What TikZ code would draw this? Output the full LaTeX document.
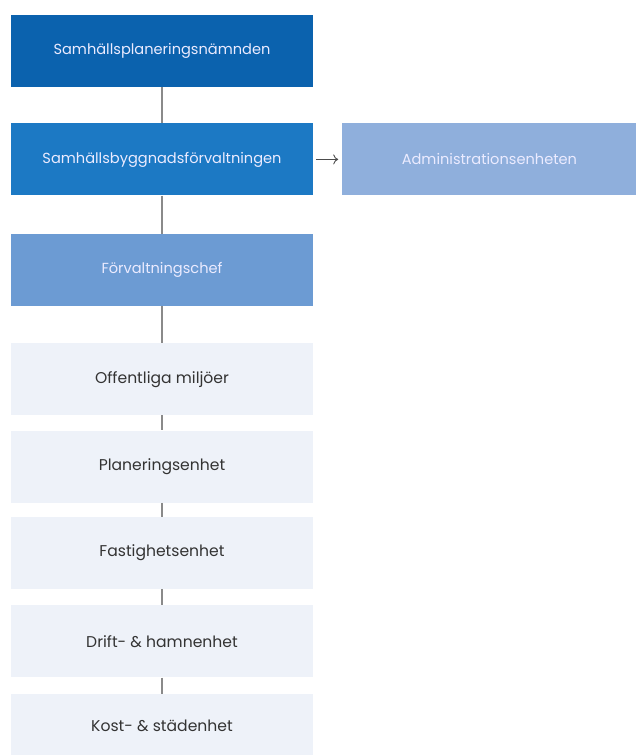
\documentclass[tikz,border=0pt]{standalone}
\usepackage{fontspec}
\setmainfont{Poppins}
\usetikzlibrary{positioning,arrows.meta}
\definecolor{navy}{HTML}{0B62AE}
\definecolor{midblue}{HTML}{1C79C4}
\definecolor{softblue}{HTML}{6C9BD3}
\definecolor{paleblue}{HTML}{8FAFDC}
\definecolor{unitbg}{HTML}{EEF2F9}
\definecolor{linegray}{HTML}{8A8A8A}
\begin{document}
\begin{tikzpicture}[x=1pt,y=1pt]
\tikzstyle{box}=[minimum width=302pt,minimum height=72pt,inner sep=0pt]
\tikzstyle{topbox}=[box,text=white!92!blue,font=\fontsize{14.6}{16}\selectfont]
\tikzstyle{unit}=[box,fill=unitbg,text=black!80,font=\fontsize{15.6}{17}\selectfont]
\tikzstyle{link}=[draw=linegray,line width=1.4pt]
\useasboundingbox (0,0) rectangle (638,-755);
% chain of command
\node [topbox,fill=navy] (nmd) at (162,-51) {Samhällsplaneringsnämnden};
\node [topbox,fill=midblue,below=36pt of nmd] (forv) {Samhällsbyggnadsförvaltningen};
\node [topbox,fill=softblue,below=38pt of forv] (chef) {Förvaltningschef};
\node [topbox,fill=paleblue,minimum width=294pt,right=29pt of forv] (adm) {Administrationsenheten};
% units
\node [unit,below=37pt of chef] (milj) {Offentliga miljöer};
\node [unit,below=15pt of milj] (plan) {Planeringsenhet};
\node [unit,below=14pt of plan] (fast) {Fastighetsenhet};
\node [unit,below=16pt of fast] (drift) {Drift- \& hamnenhet};
\node [unit,below=16pt of drift,minimum height=64pt] (kost) {Kost- \& städenhet};
\draw [link] (nmd) -- (forv);
\draw [link] (forv) -- (chef);
\draw [link] (chef) -- (milj);
\draw [link] (milj) -- (plan);
\draw [link] (plan) -- (fast);
\draw [link] (fast) -- (drift);
\draw [link] (drift) -- (kost);
\draw [-{To[length=5pt,width=10pt]},black!70,line width=0.9pt,shorten <=3pt,shorten >=4pt] (forv) -- (adm);
\end{tikzpicture}
\end{document}
